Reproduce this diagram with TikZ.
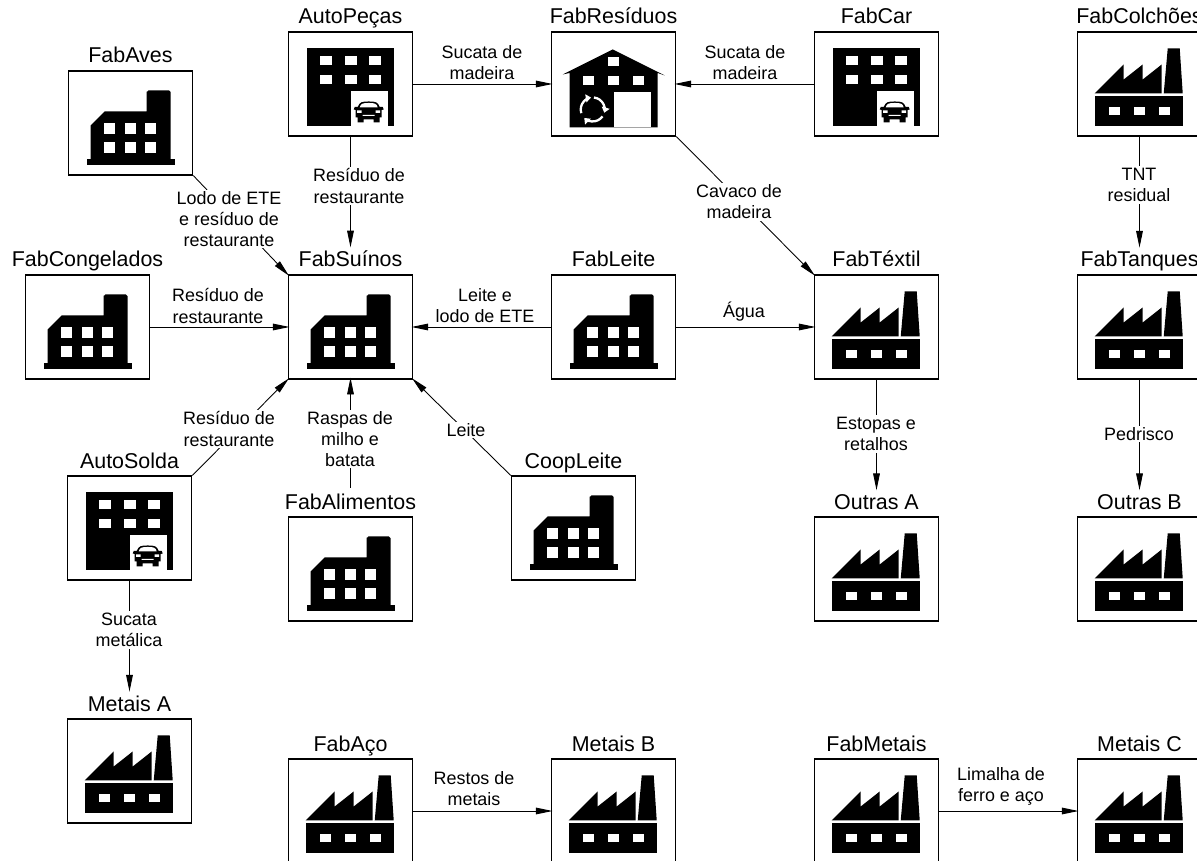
\documentclass[tikz,border=0pt]{standalone}
\usepackage{fontspec}
\setmainfont{Liberation Sans}
\usetikzlibrary{arrows.meta}
\tikzset{
  x=0.02cm,y=-0.02cm,
  box/.style={draw,line width=0.9pt,fill=white,minimum width=2.48cm,minimum height=2.07cm,inner sep=0pt},
  title/.style={font=\fontsize{12.2}{14}\selectfont,anchor=base,inner ysep=3pt,inner xsep=0pt},
  lab/.style={font=\fontsize{10.2}{12}\selectfont,align=center,inner sep=1pt},
  wlab/.style={lab,fill=white},
  flow/.style={line width=0.5pt,-{Triangle[length=9.5pt,width=3.8pt]},shorten >=-1pt},
  factory/.pic={
    \fill (18,65) rectangle (106,95);
    \fill (18,62) -- (47,33) -- (47,48) -- (66,33) -- (66,48) -- (85,33) -- (85,62) -- cycle;
    \fill (87,62) -- (91,17) -- (103,17) -- (106,62) -- cycle;
    \foreach \wx in {32,57,82}{\fill[white] (\wx,76) rectangle +(11,8);}
  },
  plantb/.pic={
    \fill (19,89) rectangle (107,95);
    \fill (23,90) -- (23,55) -- (37,41) -- (79,41) -- (79,21) [rounded corners=1pt] -- (79,20) -- (103,20) [sharp corners] -- (103,90) -- cycle;
    \foreach \wx in {36,57,77}{\foreach \wy in {53,72}{\fill[white] (\wx,\wy) rectangle +(11,11);}}
  },
  carshape/.pic={
    \fill (70,75.5) .. controls (72,70.5) and (74,70) .. (81,70) .. controls (88,70) and (90,70.5) .. (92,75.5)
      -- (95,75.5) -- (96,78) -- (94,78.5) -- (94,86) -- (92,86) -- (92,91) -- (86,91) -- (86,88) -- (76,88) -- (76,91) -- (70,91) -- (70,86) -- (68,86) -- (68,78.5) -- (66,78) -- (67,75.5) -- cycle;
    \fill[white] (72,76) .. controls (73,72) and (75,71.5) .. (81,71.5) .. controls (87,71.5) and (89,72) .. (90,76) -- cycle;
    \fill[white] (69.5,79) rectangle (74,81.5) (88,79) rectangle (92.5,81.5) (75,83.5) rectangle (87,84.5);
  },
  autoicon/.pic={
    \fill (19,17) rectangle (106,95);
    \foreach \wx in {32,57,81}{\foreach \wy in {25,44}{\fill[white] (\wx,\wy) rectangle +(12,9);}}
    \fill[white] (63,60) rectangle (100,95);
    \pic {carshape};
  },
  recycleicon/.pic={
    \fill (12,43) -- (62,18) -- (114,44) -- (107,41.5) -- (107,96) -- (19,96) -- (19,41.5) -- cycle;
    \fill[white] (63,61) rectangle (100,96);
    \fill[white] (57,26) rectangle +(11,9);
    \foreach \wx in {32,57,82}{\fill[white] (\wx,45) rectangle +(11,9);}
    \foreach \ang in {-198,-84,35}{
      \draw[white,line width=1.3pt,-{Triangle[length=3pt,width=4.5pt]}] (42,78) ++(\ang:12) arc[start angle=\ang,delta angle=100,radius=12];
    }
  }
}
\newcommand{\plantnode}[5]{%
  \node[box] (#1) at (#2+62.5,#3+52) {};
  \pic at (#1.north west) {#5};
  \node[title] (#1t) at (#2+62.5,#3-8) {#4};
}
\begin{document}
\begin{tikzpicture}
\useasboundingbox (0,0) rectangle (1197,861);
\clip (0,0) rectangle (1197,861);
\plantnode{autopecas}{288}{32}{AutoPeças}{autoicon}
\plantnode{fabres}{551}{32}{FabResíduos}{recycleicon}
\plantnode{fabcar}{814}{32}{FabCar}{autoicon}
\plantnode{colchoes}{1077}{32}{FabColchões}{factory}
\plantnode{aves}{68}{71}{FabAves}{plantb}
\plantnode{congelados}{25}{275}{FabCongelados}{plantb}
\plantnode{suinos}{288}{275}{FabSuínos}{plantb}
\plantnode{leite}{551}{275}{FabLeite}{plantb}
\plantnode{textil}{814}{275}{FabTéxtil}{factory}
\plantnode{tanques}{1077}{275}{FabTanques}{factory}
\plantnode{autosolda}{67}{476}{AutoSolda}{autoicon}
\plantnode{alimentos}{288}{517}{FabAlimentos}{plantb}
\plantnode{coop}{511}{476}{CoopLeite}{plantb}
\plantnode{outrasa}{814}{517}{Outras A}{factory}
\plantnode{outrasb}{1077}{517}{Outras B}{factory}
\plantnode{metaisa}{67}{719}{Metais A}{factory}
\plantnode{aco}{288}{759}{FabAço}{factory}
\plantnode{metaisb}{551}{759}{Metais B}{factory}
\plantnode{fabmetais}{814}{759}{FabMetais}{factory}
\plantnode{metaisc}{1077}{759}{Metais C}{factory}
\draw[flow] (autopecas.east) -- (fabres.west);
\draw[flow] (fabcar.west) -- (fabres.east);
\draw[flow] (autopecas.south) -- (suinost.north);
\draw[flow] (fabres.south east) -- (textil.north west);
\draw[flow] (aves.south east) -- (suinos.north west);
\draw[flow] (congelados.east) -- (suinos.west);
\draw[flow] (leite.west) -- (suinos.east);
\draw[flow] (leite.east) -- (textil.west);
\draw[flow] (colchoes.south) -- (tanquest.north);
\draw[flow] (tanques.south) -- (outrasbt.north);
\draw[flow] (textil.south) -- (outrasat.north);
\draw[flow] (autosolda.north east) -- (suinos.south west);
\draw[flow] (alimentost.north) -- (suinos.south);
\draw[flow] (coop.north west) -- (suinos.south east);
\draw[flow] (autosolda.south) -- (metaisat.north);
\draw[flow] (aco.east) -- (metaisb.west);
\draw[flow] (fabmetais.east) -- (metaisc.west);
\node[lab] (l1) at (482,63) {Sucata de\\madeira};
\node[lab] (l2) at (745,63) {Sucata de\\madeira};
\node[wlab] (l3) at (359,186) {Resíduo de\\restaurante};
\node[wlab] (l4) at (739,202) {Cavaco de\\madeira};
\node[wlab] (l5) at (229,219) {Lodo de ETE\\e resíduo de\\restaurante};
\node[lab] (l6) at (218,306) {Resíduo de\\restaurante};
\node[lab] (l7) at (485,306) {Leite e\\lodo de ETE};
\node[lab] (l8) at (744,312) {Água};
\node[wlab] (l9) at (1139,185) {TNT\\residual};
\node[wlab] (l10) at (1139,434) {Pedrisco};
\node[wlab] (l11) at (876,434) {Estopas e\\retalhos};
\node[wlab] (l12) at (229,429) {Resíduo de\\restaurante};
\node[wlab] (l13) at (350,439) {Raspas de\\milho e\\batata};
\node[wlab] (l14) at (466,430) {Leite};
\node[wlab] (l15) at (129,630) {Sucata\\metálica};
\node[lab] (l16) at (474,789) {Restos de\\metais};
\node[lab] (l17) at (1001,786) {Limalha de\\ferro e aço};
\end{tikzpicture}
\end{document}
